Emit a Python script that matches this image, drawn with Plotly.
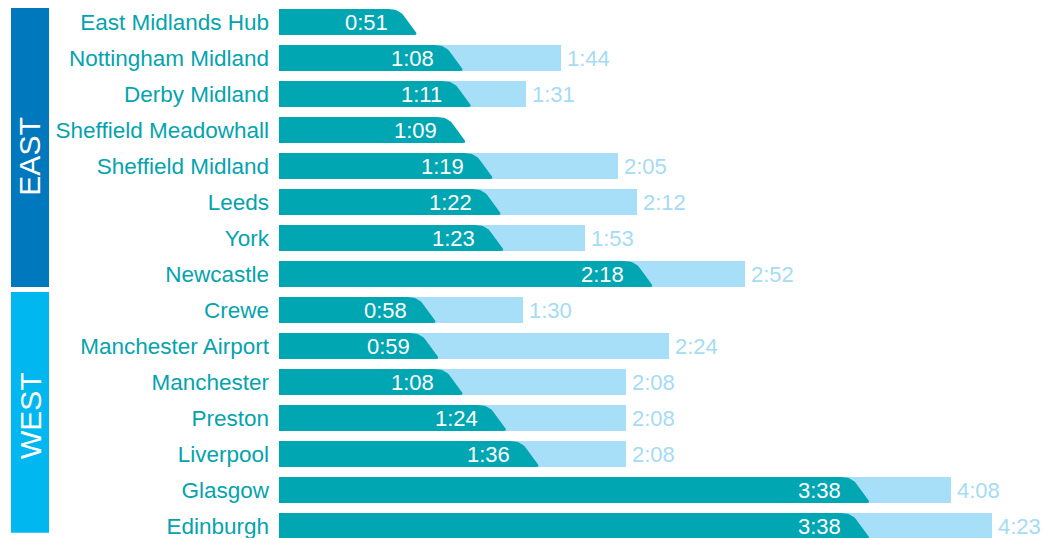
import plotly.graph_objects as go

# ---------------- data ----------------
stations = [
    "East Midlands Hub", "Nottingham Midland", "Derby Midland", "Sheffield Meadowhall",
    "Sheffield Midland", "Leeds", "York", "Newcastle",
    "Crewe", "Manchester Airport", "Manchester", "Preston", "Liverpool", "Glasgow", "Edinburgh",
]
hs2_times = ["0:51", "1:08", "1:11", "1:09", "1:19", "1:22", "1:23", "2:18",
             "0:58", "0:59", "1:08", "1:24", "1:36", "3:38", "3:38"]
current_times = [None, "1:44", "1:31", None, "2:05", "2:12", "1:53", "2:52",
                 "1:30", "2:24", "2:08", "2:08", "2:08", "4:08", "4:23"]
groups = ["EAST", "WEST"]


def to_min(s):
    if s is None:
        return None
    h, m = s.split(":")
    return int(h) * 60 + int(m)


hs2_min = [to_min(s) for s in hs2_times]
cur_min = [to_min(s) for s in current_times]
rows = list(range(len(stations)))

# ---------------- styling / geometry ----------------
PAGE_OFF = 8            # default page body margin
W, H = 1051 - PAGE_OFF, 538 - PAGE_OFF
ML = 279 - PAGE_OFF
PX_PER_MIN = 2.71
ROW_PX = 36.0
ROW0_PX = 22.0 - PAGE_OFF
BAR_PX = 26.0

TEAL = "#00A6B2"
LIGHT = "#A7DEF8"
LABEL = "#05A3AE"
LIGHT_TXT = "#A6DBF4"
EAST_C = "#0078BE"
WEST_C = "#00B8EF"
FONT = "Liberation Sans, Arial, sans-serif"

xr = [0, (W - ML) / PX_PER_MIN]
y_top = -ROW0_PX / ROW_PX
y_bot = y_top + H / ROW_PX
hh = BAR_PX / 2 / ROW_PX


def px_x(p):
    return p / PX_PER_MIN


def px_y(p):
    return p / ROW_PX


def quad(p0, p1, p2, n=8):
    pts = []
    for k in range(1, n + 1):
        t = k / n
        x = (1 - t) ** 2 * p0[0] + 2 * (1 - t) * t * p1[0] + t ** 2 * p2[0]
        y = (1 - t) ** 2 * p0[1] + 2 * (1 - t) * t * p1[1] + t ** 2 * p2[1]
        pts.append((x, y))
    return pts


# chamfered end profile in px offsets from (tip x, bar top)
profile = [(-29, 0)]
profile += quad((-29, 0), (-19, 0), (-14, 6))
profile += [(-2, 22)]
profile += quad((-2, 22), (1, 26), (-3, 26), 4)

px_, py_ = [], []
for r, v in zip(rows, hs2_min):
    top = r - hh
    bot = r + hh
    xs = [0, 0]
    ys = [bot, top]
    for dx, dy in profile:
        xs.append(v + px_x(dx))
        ys.append(top + px_y(dy))
    xs.append(0)
    ys.append(bot)
    px_ += xs + [None]
    py_ += ys + [None]

fig = go.Figure()

fig.add_trace(go.Bar(
    orientation="h", y=rows, x=cur_min, width=2 * hh,
    marker=dict(color=LIGHT, line=dict(width=0)), hoverinfo="skip", showlegend=False,
))

fig.add_trace(go.Scatter(
    x=px_, y=py_, mode="lines", fill="toself", fillcolor=TEAL,
    line=dict(width=0, color=TEAL), hoverinfo="skip", showlegend=False,
))

ann = []
for r, v, s in zip(rows, hs2_min, hs2_times):
    ann.append(dict(x=v, y=r, xref="x", yref="y", text=s, showarrow=False,
                    xanchor="right", yanchor="middle", xshift=-27,
                    font=dict(family=FONT, size=22, color="white")))
for r, v, s in zip(rows, cur_min, current_times):
    if v is None:
        continue
    ann.append(dict(x=v, y=r, xref="x", yref="y", text=s, showarrow=False,
                    xanchor="left", yanchor="middle", xshift=4,
                    font=dict(family=FONT, size=22, color=LIGHT_TXT)))

band_x0 = (11 - PAGE_OFF - ML) / (W - ML)
band_x1 = (49 - PAGE_OFF - ML) / (W - ML)
band_cx = (band_x0 + band_x1) / 2
shapes = [
    dict(type="rect", xref="paper", yref="y", x0=band_x0, x1=band_x1,
         y0=-0.39, y1=7.36, fillcolor=EAST_C, line=dict(width=0), layer="above"),
    dict(type="rect", xref="paper", yref="y", x0=band_x0, x1=band_x1,
         y0=7.5, y1=14.19, fillcolor=WEST_C, line=dict(width=0), layer="above"),
]
band_text_y = [3.74, 10.92]
for g, ty in zip(groups, band_text_y):
    ann.append(dict(x=band_cx, y=ty, xref="paper", yref="y", text=g, showarrow=False,
                    textangle=-90, xanchor="center", yanchor="middle",
                    font=dict(family="Liberation Sans Narrow, Liberation Sans, sans-serif",
                              size=30, color="white")))

fig.update_layout(
    width=W, height=H,
    margin=dict(l=ML, r=0, t=0, b=0),
    plot_bgcolor="white", paper_bgcolor="white",
    bargap=0, barmode="overlay",
    showlegend=False,
    xaxis=dict(range=xr, visible=False, fixedrange=True),
    yaxis=dict(range=[y_bot, y_top], tickmode="array", tickvals=rows, ticktext=stations,
               showgrid=False, zeroline=False, showline=False, ticks="",
               ticklabelstandoff=9, ticklabeloverflow="allow",
               tickfont=dict(family=FONT, size=22.5, color=LABEL)),
    annotations=ann,
    shapes=shapes,
)

fig.write_html("out.html")
